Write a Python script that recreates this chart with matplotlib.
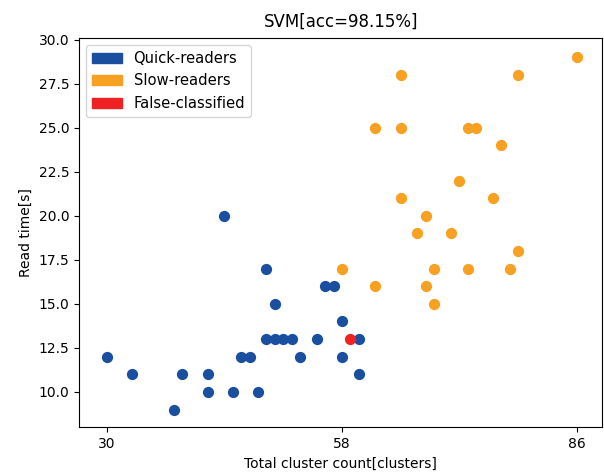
import numpy as np
import matplotlib.pyplot as plt
from matplotlib.patches import Patch

# Quick-readers (cluster count, read time)
quick_x = [44, 49, 56, 57, 50, 58, 49, 50, 51, 52, 55, 60,
           30, 46, 47, 53, 58, 33, 39, 42, 60, 42, 45, 48, 38]
quick_y = [20, 17, 16, 16, 15, 14, 13, 13, 13, 13, 13, 13,
           12, 12, 12, 12, 12, 11, 11, 11, 11, 10, 10, 10, 9]

# Slow-readers
slow_x = [86, 65, 79, 62, 65, 73, 74, 77, 72, 65, 76, 68,
          67, 71, 79, 58, 69, 73, 78, 62, 68, 69]
slow_y = [29, 28, 28, 25, 25, 25, 25, 24, 22, 21, 21, 20,
          19, 19, 18, 17, 17, 17, 17, 16, 16, 15]

# False-classified
false_x = [59]
false_y = [13]

c_quick = '#1a4fa0'
c_slow = '#f7a021'
c_false = '#ee2222'

fig = plt.figure(figsize=(6.04, 4.73), dpi=100)
ax = fig.add_axes([0.131, 0.097, 0.866, 0.823])

ax.scatter(quick_x, quick_y, s=50, color=c_quick)
ax.scatter(slow_x, slow_y, s=50, color=c_slow)
ax.scatter(false_x, false_y, s=50, color=c_false)

ax.set_xlim(26.7, 89.0)
ax.set_ylim(8.0, 30.1)
ax.set_xticks([30, 58, 86])
ax.set_title("SVM[acc=98.15%]", pad=8)
ax.set_xlabel("Total cluster count[clusters]")
ax.set_ylabel("Read time[s]")

handles = [Patch(color=c_quick, label='Quick-readers'),
           Patch(color=c_slow, label='Slow-readers'),
           Patch(color=c_false, label='False-classified')]
ax.legend(handles=handles, loc='upper left', fontsize=10.6)

fig.savefig('out.png', dpi=100)
